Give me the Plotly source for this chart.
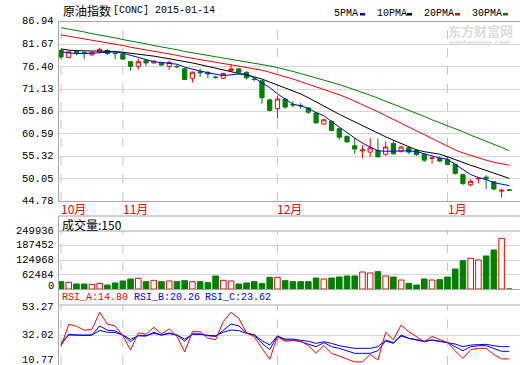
import plotly.graph_objects as go

W, H = 520, 365

# ---------------- data ----------------
idx = list(range(59))
opens = [80.3, 78.6, 80.1, 79.8, 79.2, 79.9, 80.3, 79.6, 79.4, 77.6,
         76.5, 77.9, 77.3, 77.4, 76.5, 76.5, 75.9, 73.7, 75.2, 75.1,
         73.95, 73.7, 75.5, 75.9, 75.1, 73.5, 73.1, 68.6, 66.5, 68.8,
         67.5, 67.3, 66.7, 65.5, 62.9, 63.5, 61.8, 60.0, 57.8, 56.6,
         56.3, 56.7, 55.8, 58.3, 56.5, 57.3, 56.7, 55.8, 54.8, 54.8,
         54.5, 53.4, 51.0, 48.6, 50.0, 50.4, 49.3, 47.1, 47.4]
highs = [80.5, 80.0, 80.2, 79.9, 79.9, 80.9, 80.4, 80.0, 79.6, 77.7,
         78.3, 78.0, 78.0, 77.6, 77.8, 76.9, 76.2, 75.3, 76.0, 75.3,
         74.3, 75.0, 77.0, 76.1, 75.3, 73.8, 73.2, 68.8, 69.6, 69.1,
         68.3, 67.8, 66.9, 65.6, 64.2, 63.8, 62.0, 60.2, 59.6, 57.9,
         59.6, 59.5, 58.7, 59.1, 57.8, 57.6, 57.0, 56.0, 55.2, 55.3,
         55.3, 53.6, 51.2, 49.9, 50.4, 50.9, 49.5, 47.7, 47.5]
lows = [78.1, 78.4, 79.1, 78.2, 79.0, 79.8, 79.2, 78.2, 78.0, 75.5,
        75.7, 76.6, 77.1, 76.6, 75.7, 76.0, 73.3, 72.7, 74.0, 73.7,
        73.6, 73.5, 75.3, 75.0, 73.4, 73.0, 67.7, 65.9, 64.2, 66.5,
        66.8, 66.5, 65.3, 62.9, 62.8, 61.2, 59.2, 58.5, 55.9, 54.8,
        55.2, 55.0, 55.4, 55.7, 56.2, 55.8, 55.4, 54.0, 53.6, 53.9,
        53.2, 51.0, 48.5, 48.2, 48.9, 47.6, 47.3, 45.6, 47.2]
closes = [78.7, 79.9, 79.5, 79.7, 79.8, 80.5, 79.5, 79.5, 78.2, 76.5,
          77.6, 77.3, 77.7, 76.8, 77.4, 76.4, 73.4, 75.1, 75.0, 74.7,
          73.9, 74.8, 75.9, 75.1, 73.8, 73.4, 69.1, 66.1, 68.8, 66.9,
          67.4, 67.2, 65.7, 63.2, 63.9, 61.4, 59.8, 58.7, 57.0, 56.8,
          57.3, 55.2, 57.5, 55.9, 57.5, 56.3, 55.7, 54.4, 54.9, 54.2,
          53.4, 51.3, 48.9, 49.4, 50.1, 50.0, 47.6, 47.3, 47.3]

ma5 = [79.9, 79.7, 79.5, 79.5, 79.6, 79.8, 79.9, 79.9, 79.6, 79.1,
       78.6, 78.1, 77.6, 77.4, 77.2, 77.0, 76.3, 75.8, 75.4, 75.0,
       74.6, 74.3, 74.5, 74.7, 74.7, 73.8, 72.6, 71.5, 70.0, 68.9,
       67.6, 67.2, 66.6, 65.6, 64.9, 63.5, 62.3, 60.9, 59.6, 58.4,
       57.5, 56.6, 56.5, 56.5, 56.6, 56.6, 56.4, 55.9, 55.4, 54.9,
       54.6, 53.4, 52.1, 51.0, 50.3, 49.8, 49.1, 48.7, 48.4]
ma10 = [80.6, 80.3, 80.2, 80.1, 80.1, 80.1, 80.1, 80.0, 79.8, 79.6,
        79.4, 79.1, 78.9, 78.6, 78.3, 78.0, 77.7, 77.3, 76.9, 76.5,
        76.1, 75.7, 75.3, 74.9, 74.4, 74.0, 73.5, 72.8, 72.0, 71.3,
        70.6, 70.0, 69.1, 68.1, 67.1, 66.1, 65.2, 64.3, 63.4, 62.6,
        61.7, 60.8, 59.9, 59.1, 58.3, 57.5, 56.8, 56.4, 56.1, 55.8,
        55.2, 54.5, 53.8, 53.2, 52.6, 52.0, 51.3, 50.7, 50.1]
ma20 = [83.9, 83.6, 83.3, 82.9, 82.6, 82.3, 82.0, 81.7, 81.4, 81.0,
        80.7, 80.4, 80.1, 79.7, 79.4, 79.1, 78.7, 78.4, 78.1, 77.8,
        77.5, 77.2, 76.9, 76.6, 76.3, 76.0, 75.6, 75.1, 74.6, 74.0,
        73.5, 72.9, 72.3, 71.7, 71.1, 70.4, 69.8, 69.1, 68.3, 67.5,
        66.7, 65.8, 64.9, 64.0, 63.1, 62.2, 61.3, 60.4, 59.5, 58.5,
        57.6, 56.8, 56.1, 55.5, 54.9, 54.4, 53.9, 53.5, 53.2]
ma30 = [85.6, 85.3, 84.9, 84.6, 84.2, 83.9, 83.5, 83.2, 82.8, 82.5,
        82.1, 81.8, 81.4, 81.1, 80.7, 80.4, 80.0, 79.7, 79.3, 79.0,
        78.7, 78.4, 78.1, 77.9, 77.6, 77.3, 77.0, 76.6, 76.2, 75.8,
        75.3, 74.8, 74.3, 73.8, 73.3, 72.7, 72.2, 71.6, 71.0, 70.4,
        69.7, 69.0, 68.3, 67.6, 66.9, 66.2, 65.5, 64.7, 63.9, 63.2,
        62.5, 61.9, 61.1, 60.3, 59.6, 58.9, 58.1, 57.4, 56.6]

volume = [31600, 28700, 21500, 21500, 20100, 24400, 17200, 25900, 34500, 43100,
          46000, 31600, 37300, 31600, 34500, 31600, 35900, 31600, 31600, 27300,
          56000, 37300, 34500, 21500, 25900, 31600, 23000, 50300, 50300, 35900,
          31600, 31600, 31600, 47400, 43100, 47400, 51700, 56000, 56000, 73300,
          68900, 74700, 56000, 51700, 38800, 24400, 17200, 43100, 38800, 40200,
          51700, 86200, 122100, 132100, 125000, 142200, 168100, 218300, 150]

rsi_a = [23.6, 39.7, 38.3, 35.5, 36.0, 48.4, 39.8, 38.6, 31.5, 21.2,
         33.5, 32.5, 37.6, 32.8, 36.4, 31.0, 19.8, 34.4, 34.4, 29.8,
         28.6, 41.8, 48.4, 44.0, 33.6, 30.8, 22.4, 14.5, 30.8, 27.5,
         28.0, 27.8, 24.3, 18.8, 24.5, 18.8, 16.8, 14.8, 12.6, 12.7,
         18.0, 14.0, 34.0, 28.6, 39.2, 34.4, 30.8, 27.2, 30.9, 28.7,
         26.6, 20.5, 15.2, 21.5, 22.4, 22.4, 18.0, 14.8, 14.8]
rsi_b = [25.0, 32.5, 32.0, 31.6, 32.0, 38.5, 35.5, 35.0, 32.0, 27.2,
         31.5, 31.3, 34.0, 32.0, 33.5, 32.0, 27.5, 32.8, 32.8, 31.5,
         31.0, 35.6, 39.9, 38.6, 33.5, 32.0, 26.0, 21.5, 31.3, 28.4,
         28.4, 27.2, 25.5, 23.6, 26.5, 23.6, 22.4, 20.7, 18.8, 18.8,
         18.8, 20.7, 27.7, 26.0, 32.0, 29.6, 28.4, 27.2, 28.4, 27.5,
         26.5, 23.6, 20.7, 23.6, 24.3, 24.3, 22.4, 20.3, 20.26]
rsi_c = [26.5, 32.0, 32.0, 31.8, 32.0, 35.3, 34.0, 33.8, 32.0, 28.9,
         31.5, 31.5, 33.2, 32.0, 33.0, 32.0, 29.0, 32.5, 32.5, 31.8,
         31.5, 34.0, 35.6, 35.2, 33.2, 32.2, 27.9, 24.8, 31.3, 29.0,
         29.1, 28.2, 27.5, 26.0, 27.2, 26.0, 24.3, 23.3, 22.4, 22.4,
         22.4, 23.6, 28.4, 26.5, 31.3, 29.6, 28.9, 27.7, 28.4, 27.7,
         26.5, 25.5, 23.6, 24.8, 25.3, 25.3, 24.3, 23.6, 23.62]

month_labels = ["10月", "11月", "12月", "1月"]
month_pos = [0, 8, 28, 50]
price_ticks = [86.94, 81.67, 76.40, 71.13, 65.86, 60.59, 55.32, 50.05, 44.78]
vol_ticks = [0, 62484, 124968, 187452, 249936]
rsi_ticks = [10.77, 32.02, 53.27]
title_cn = "原油指数"
title_code = "[CONC] 2015-01-14"
vol_label = "成交量:150"
rsi_labels = ["RSI_A:14.80", "RSI_B:20.26", "RSI_C:23.62"]
ma_names = ["5PMA", "10PMA", "20PMA", "30PMA"]

for arr in (opens, highs, lows, closes, ma5, ma10, ma20, ma30, volume, rsi_a, rsi_b, rsi_c):
    assert len(arr) == 59, len(arr)

# ---------------- styling helpers ----------------
RED = "#ff0000"
GREEN = "#008000"
BLUE = "#0000ff"
BLACK = "#000000"
BORDER = "#a8a8a8"
GRID = "#d6d6d6"
MONO = "Liberation Mono, DejaVu Sans Mono, monospace"
CJK = "Noto Sans CJK SC, sans-serif"


def py(y):
    return 1 - y / H


def px(x):
    return x / W


PLOT_L = 59
main_dom = [py(201), py(22)]
vol_dom = [py(289), py(231)]
rsi_dom = [py(364.5), py(305.5)]
xr = [-0.26, 59.38]

fig = go.Figure()

# candles
fig.add_trace(go.Candlestick(
    x=idx, open=opens, high=highs, low=lows, close=closes,
    increasing=dict(line=dict(color=RED, width=1), fillcolor="#ffffff"),
    decreasing=dict(line=dict(color=GREEN, width=1), fillcolor=GREEN),
    whiskerwidth=0, xaxis="x", yaxis="y", showlegend=False, hoverinfo="skip"))

for vals, col in ((ma30, GREEN), (ma20, RED), (ma10, BLACK), (ma5, BLUE)):
    fig.add_trace(go.Scatter(x=idx, y=vals, mode="lines",
                             line=dict(color=col, width=1),
                             xaxis="x", yaxis="y", showlegend=False, hoverinfo="skip"))

# volume
up = [c > o for o, c in zip(opens, closes)]
fig.add_trace(go.Bar(
    x=idx, y=volume, width=0.72,
    marker=dict(color=["#ffffff" if u else GREEN for u in up],
                line=dict(color=[RED if u else GREEN for u in up], width=1)),
    xaxis="x2", yaxis="y2", showlegend=False, hoverinfo="skip"))

# RSI
for vals, col in ((rsi_c, BLUE), (rsi_b, BLUE), (rsi_a, RED)):
    fig.add_trace(go.Scatter(x=idx, y=vals, mode="lines",
                             line=dict(color=col, width=1),
                             xaxis="x3", yaxis="y3", showlegend=False, hoverinfo="skip"))

xcommon = dict(range=xr, domain=[px(PLOT_L), 1], showticklabels=False, showgrid=False,
               zeroline=False, showline=False, ticks="", fixedrange=True)
fig.update_layout(
    width=W, height=H, margin=dict(l=0, r=0, t=0, b=0),
    paper_bgcolor="#ffffff", plot_bgcolor="#ffffff",
    boxgap=0.22, bargap=0.2,
    xaxis=dict(**xcommon, anchor="y", rangeslider=dict(visible=False)),
    xaxis2=dict(**xcommon, anchor="y2", matches="x"),
    xaxis3=dict(**xcommon, anchor="y3", matches="x"),
    yaxis=dict(domain=main_dom, range=[price_ticks[-1], price_ticks[0]], tickvals=price_ticks,
               showticklabels=False, showgrid=True, gridcolor=GRID, gridwidth=1,
               zeroline=False, showline=False, ticks="", fixedrange=True),
    yaxis2=dict(domain=vol_dom, range=[0, vol_ticks[-1]], tickvals=vol_ticks,
                showticklabels=False, showgrid=True, gridcolor=GRID, gridwidth=1,
                zeroline=False, showline=False, ticks="", fixedrange=True),
    yaxis3=dict(domain=rsi_dom, range=[rsi_ticks[0], rsi_ticks[-1]], tickvals=rsi_ticks,
                showticklabels=False, showgrid=True, gridcolor=GRID, gridwidth=1,
                zeroline=False, showline=False, ticks="", fixedrange=True),
)

shapes = []
# month dashed lines in each panel
for pos in month_pos:
    for xref, yref in (("x", "y domain"), ("x2", "y2 domain"), ("x3", "y3 domain")):
        shapes.append(dict(type="line", xref=xref, yref=yref, x0=pos, x1=pos, y0=0, y1=1,
                           line=dict(color="#c4c4c4", width=1, dash="dash"), layer="below"))


def hline(y, x0=PLOT_L - 0.5, x1=W):
    shapes.append(dict(type="line", xref="paper", yref="paper", x0=px(x0), x1=px(x1),
                       y0=py(y), y1=py(y), line=dict(color=BORDER, width=1)))


def vline(x, y0, y1):
    shapes.append(dict(type="line", xref="paper", yref="paper", x0=px(x), x1=px(x),
                       y0=py(y0), y1=py(y1), line=dict(color=BORDER, width=1)))


hline(21.5)
hline(201.5)
vline(PLOT_L - 0.5, 21.5, 201.5)
hline(216)
hline(231)
hline(289.5)
hline(305)
vline(PLOT_L - 0.5, 216, 365)

# legend swatches
leg_x = [331.5, 375, 421.5, 470]
leg_sw = [360, 407, 455, 503]
for sx, col in zip(leg_sw, (BLUE, BLACK, RED, GREEN)):
    shapes.append(dict(type="rect", xref="paper", yref="paper", x0=px(sx), x1=px(sx + 5),
                       y0=py(15.5), y1=py(13), fillcolor=col, line=dict(width=0)))
fig.update_layout(shapes=shapes)

ann = []
# y tick labels
for v in price_ticks:
    shift = 1 if v == price_ticks[0] else 0
    ann.append(dict(xref="paper", yref="y", x=px(56), y=v, text=f"{v:.2f}", showarrow=False,
                    xanchor="right", yanchor="middle", yshift=shift,
                    font=dict(family=MONO, size=10.5, color="#000")))
for v in vol_ticks:
    shift = 3 if v == 0 else 0
    ann.append(dict(xref="paper", yref="y2", x=px(56), y=v, text=str(v), showarrow=False,
                    xanchor="right", yanchor="middle", yshift=shift,
                    font=dict(family=MONO, size=10.5, color="#000")))
for v in rsi_ticks:
    shift = 5 if v == rsi_ticks[0] else (-1 if v == rsi_ticks[-1] else 0)
    ann.append(dict(xref="paper", yref="y3", x=px(56), y=v, text=f"{v:.2f}", showarrow=False,
                    xanchor="right", yanchor="middle", yshift=shift,
                    font=dict(family=MONO, size=10.5, color="#000")))
# month labels
for lab, pos in zip(month_labels, month_pos):
    ann.append(dict(xref="x", yref="paper", x=pos, y=py(208), text=lab, showarrow=False,
                    xanchor="left", yanchor="middle", xshift=-2,
                    font=dict(family=CJK, size=12, color=RED)))
# title
ann.append(dict(xref="paper", yref="paper", x=px(61), y=py(11), text=title_cn, showarrow=False,
                xanchor="left", yanchor="middle", font=dict(family=CJK, size=12, color="#000")))
ann.append(dict(xref="paper", yref="paper", x=px(111), y=py(11), text=title_code, showarrow=False,
                xanchor="left", yanchor="middle", font=dict(family=MONO, size=10, color="#000")))
# legend text
for lx, name in zip(leg_x, ma_names):
    ann.append(dict(xref="paper", yref="paper", x=px(lx), y=py(14), text=name, showarrow=False,
                    xanchor="left", yanchor="middle", font=dict(family=MONO, size=10, color="#000")))
# watermark
ann.append(dict(xref="paper", yref="paper", x=px(480), y=py(30), text="<b>东方财富网</b>", showarrow=False,
                xanchor="center", yanchor="middle", font=dict(family=CJK, size=13, color="#dcdcdc")))
ann.append(dict(xref="paper", yref="paper", x=px(480), y=py(43), text="<b><i>eastmoney.com</i></b>",
                showarrow=False, xanchor="center", yanchor="middle",
                font=dict(family="DejaVu Sans, sans-serif", size=7, color="#dcdcdc")))
# volume strip label
ann.append(dict(xref="paper", yref="paper", x=px(60), y=py(224), text=vol_label, showarrow=False,
                xanchor="left", yanchor="middle", font=dict(family=CJK, size=12, color="#000")))
# RSI strip labels
for lx, lab, col in zip([60, 131.5, 203], rsi_labels, [RED, BLUE, BLUE]):
    ann.append(dict(xref="paper", yref="paper", x=px(lx), y=py(297.5), text=lab, showarrow=False,
                    xanchor="left", yanchor="middle", font=dict(family=MONO, size=10, color=col)))
fig.update_layout(annotations=ann)

fig.write_html(
    "out.html",
    config={"displayModeBar": False, "staticPlot": True},
    post_script="document.body.style.margin='0';document.body.style.padding='0';"
                "document.documentElement.style.overflow='hidden';",
)
